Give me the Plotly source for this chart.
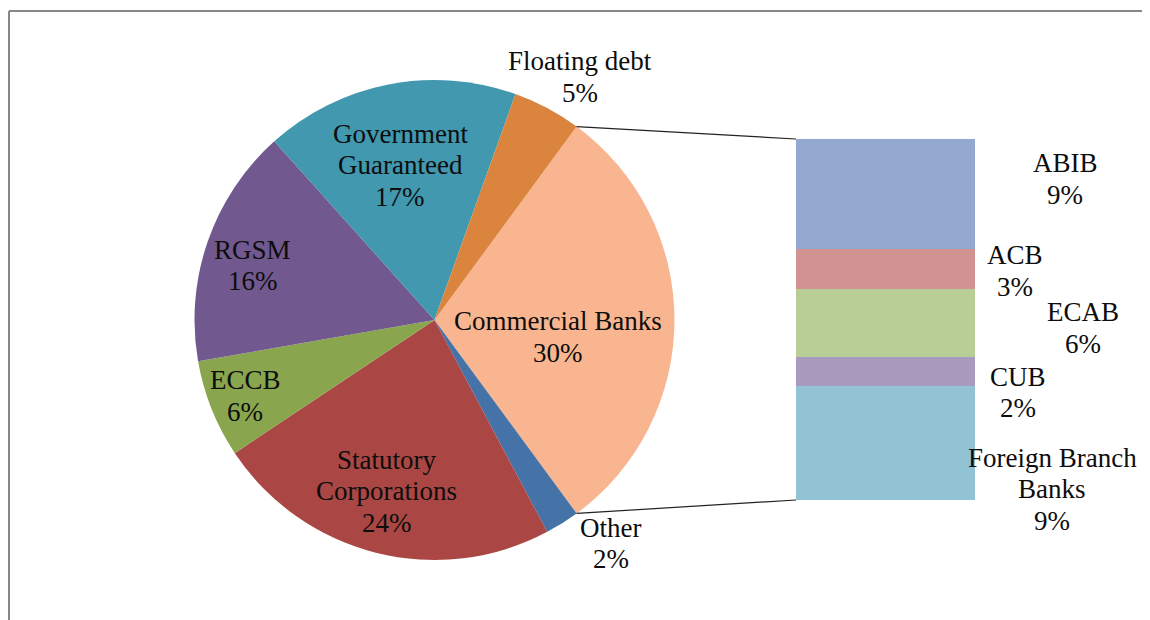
import math
import plotly.graph_objects as go

# ---- data ----
pie_labels = ["Commercial Banks", "Other", "Statutory\nCorporations", "ECCB", "RGSM",
              "Government\nGuaranteed", "Floating debt"]
pie_values = [29.8, 2.3, 23.4, 6.6, 16.1, 17.1, 4.6]
pie_pct = ["30%", "2%", "24%", "6%", "16%", "17%", "5%"]
pie_colors = ["#F9B590", "#4572A7", "#AA4643", "#89A54E", "#71588F", "#4198AF", "#DB843D"]

bar_labels = ["ABIB", "ACB", "ECAB", "CUB", "Foreign Branch\nBanks"]
bar_values = [9.1, 3.3, 5.6, 2.4, 9.4]
bar_pct = ["9%", "3%", "6%", "2%", "9%"]
bar_colors = ["#93A9CF", "#D19392", "#B9CD96", "#A99BBD", "#92C3D4"]

# page has an 8px body margin: draw a slightly smaller figure and shift coords
OFF = 8
W, H = 1150 - OFF, 620 - OFF
FONT = "Liberation Serif"
FS = 27
LINE = 31.5

# ---- geometry (reference page pixels, shifted by the page margin) ----
pie_cx, pie_cy, pie_r = 434.5 - OFF, 320.0 - OFF, 240.0
pie_dom_x = [(pie_cx - pie_r) / W, (pie_cx + pie_r) / W]
pie_dom_y = [1 - (pie_cy + pie_r) / H, 1 - (pie_cy - pie_r) / H]
bar_x0, bar_x1, bar_top, bar_bot = 796 - OFF, 975 - OFF, 139 - OFF, 500 - OFF
bar_dom_x = [bar_x0 / W, bar_x1 / W]
bar_dom_y = [1 - bar_bot / H, 1 - bar_top / H]
frame_x, frame_y = 8 - OFF + 1, 11 - OFF

total = sum(pie_values)
first_span = 360 * pie_values[0] / total
rotation = 90 - first_span / 2

fig = go.Figure()
fig.add_trace(go.Pie(
    labels=[l.replace("\n", " ") for l in pie_labels], values=pie_values, sort=False,
    direction="clockwise", rotation=rotation,
    marker=dict(colors=pie_colors, line=dict(width=0)),
    textinfo="none", hoverinfo="label+percent",
    domain=dict(x=pie_dom_x, y=pie_dom_y), showlegend=False,
))

# stacked bar (bottom first)
bar_total = sum(bar_values)
for lab, val, col in reversed(list(zip(bar_labels, bar_values, bar_colors))):
    fig.add_trace(go.Bar(
        x=[0], y=[val], width=1, marker=dict(color=col, line=dict(width=0)),
        name=lab.replace("\n", " "), showlegend=False, hoverinfo="name+y",
    ))


def add_label(text, x, y, xref, yref, xshift=0, yshift=0):
    lines = text.split("\n")
    n = len(lines)
    for i, ln in enumerate(lines):
        off = ((n - 1) / 2 - i) * LINE
        fig.add_annotation(text=ln, x=x, y=y, xref=xref, yref=yref,
                           xshift=xshift, yshift=yshift + off, showarrow=False,
                           font=dict(family=FONT, size=FS, color="#0d0d0d"),
                           xanchor="center", yanchor="middle")


# pie labels: (radius fraction, angle nudge in degrees)
pie_label_pos = [(0.52, 7.9), (1.185, -6.1), (0.74, 1.5), (0.85, 0.0),
                 (0.79, -2.4), (0.66, -1.4), (1.18, 2.8)]
start = rotation
for lab, val, pct, (rf, nudge) in zip(pie_labels, pie_values, pie_pct, pie_label_pos):
    span = 360 * val / total
    mid = math.radians(start + span / 2 + nudge)
    start += span
    px = pie_cx + rf * pie_r * math.sin(mid)
    py = pie_cy - rf * pie_r * math.cos(mid)
    add_label(lab + "\n" + pct, px / W, 1 - py / H, "paper", "paper")

# bar labels: (xshift, yshift) from right edge / segment middle
bar_label_pos = [(90, 15), (40, -2), (108, -5), (43, -21), (77, -46)]
cum = bar_total
for lab, val, pct, (xs, ys) in zip(bar_labels, bar_values, bar_pct, bar_label_pos):
    midv = cum - val / 2
    cum -= val
    add_label(lab + "\n" + pct, 0.5, midv, "x", "y", xshift=xs, yshift=ys)

# connector lines from the Commercial Banks slice edges to the bar
a0 = math.radians(rotation)
a1 = math.radians(rotation + first_span)
for ang, yv in [(a0, bar_total), (a1, 0)]:
    ex = pie_cx + pie_r * math.sin(ang)
    ey = pie_cy - pie_r * math.cos(ang)
    by = bar_dom_y[0] + (bar_dom_y[1] - bar_dom_y[0]) * yv / bar_total
    fig.add_shape(type="line", xref="paper", yref="paper",
                  x0=ex / W, y0=1 - ey / H, x1=bar_dom_x[0], y1=by,
                  line=dict(color="#222222", width=1.2))

# chart frame (top and left edges visible)
fig.add_shape(type="line", xref="paper", yref="paper", x0=frame_x / W, x1=1.02,
              y0=1 - frame_y / H, y1=1 - frame_y / H, line=dict(color="#878787", width=2))
fig.add_shape(type="line", xref="paper", yref="paper", x0=frame_x / W, x1=frame_x / W,
              y0=-0.02, y1=1 - frame_y / H, line=dict(color="#878787", width=2))

fig.update_layout(
    width=W, height=H, margin=dict(l=0, r=0, t=0, b=0),
    paper_bgcolor="white", plot_bgcolor="rgba(0,0,0,0)",
    barmode="stack", bargap=0,
    xaxis=dict(domain=bar_dom_x, range=[-0.5, 0.5], visible=False, fixedrange=True),
    yaxis=dict(domain=bar_dom_y, range=[0, bar_total], visible=False, fixedrange=True),
)

fig.write_html(
    "out.html",
    post_script="document.documentElement.style.overflow='hidden';"
                "document.body.style.overflow='hidden';",
)
